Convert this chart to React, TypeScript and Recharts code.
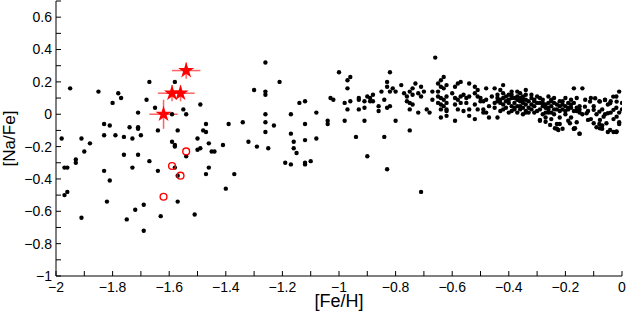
import {
    ErrorBar,
    Scatter,
    ScatterChart,
    Symbols,
    XAxis,
    YAxis,
} from 'recharts';

// [Fe/H], [Na/Fe] pairs
const metalPoorStars: [number, number][] = [
    [-1.95, 0.16], [-1.85, 0.14], [-1.78, 0.13], [-1.77, 0.1], [-1.8, 0.07],
    [-1.67, 0.2], [-1.58, 0.2], [-1.68, 0.09], [-1.65, 0.04], [-1.71, 0.01],
    [-1.59, 0.0], [-1.55, 0.03], [-1.54, 0.0], [-1.49, 0.06], [-1.98, -0.15],
    [-1.91, -0.15], [-1.88, -0.18], [-1.9, -0.23], [-1.93, -0.28], [-1.93, -0.3],
    [-1.97, -0.33], [-1.96, -0.33], [-1.97, -0.5], [-1.96, -0.48], [-1.83, -0.06],
    [-1.81, -0.07], [-1.83, -0.13], [-1.79, -0.13], [-1.76, -0.14], [-1.74, -0.08],
    [-1.73, -0.15], [-1.71, -0.08], [-1.71, -0.09], [-1.7, -0.13], [-1.64, -0.1],
    [-1.57, -0.1], [-1.59, -0.17], [-1.58, -0.19], [-1.58, -0.2], [-1.54, -0.26],
    [-1.5, -0.15], [-1.48, -0.1], [-1.47, -0.11], [-1.47, -0.06], [-1.5, -0.22],
    [-1.49, -0.21], [-1.76, -0.25], [-1.71, -0.25], [-1.67, -0.29], [-1.73, -0.33],
    [-1.64, -0.35], [-1.83, -0.35], [-1.81, -0.41], [-1.58, -0.33], [-1.57, -0.38],
    [-1.47, -0.37], [-1.82, -0.54], [-1.57, -0.54], [-1.69, -0.56], [-1.72, -0.59],
    [-1.91, -0.64], [-1.75, -0.65], [-1.63, -0.63], [-1.51, -0.62], [-1.69, -0.72],
    [-1.46, -0.18], [-1.45, -0.23], [-1.44, -0.23], [-1.46, -0.33], [-1.41, -0.19],
    [-1.39, -0.06], [-1.37, -0.37], [-1.4, -0.46], [-1.34, -0.05], [-1.32, -0.17],
];

const midStars: [number, number][] = [
    [-1.26, 0.32], [-1.21, 0.2], [-1.3, 0.15], [-1.26, 0.14], [-1.26, 0.12],
    [-1.26, 0.0], [-1.26, -0.05], [-1.23, -0.07], [-1.26, -0.11], [-1.17, 0.0],
    [-1.14, 0.07], [-1.12, 0.08], [-1.08, 0.01], [-1.12, -0.06], [-1.17, -0.12],
    [-1.16, -0.17], [-1.16, -0.21], [-1.15, -0.24], [-1.12, -0.16], [-1.08, -0.15],
    [-1.19, -0.3], [-1.17, -0.31], [-1.12, -0.3], [-1.12, -0.31], [-1.1, -0.29],
    [-1.29, -0.2], [-1.25, -0.21], [-1.04, -0.04], [-1.04, -0.06], [-1.03, 0.1],
    [-1.02, 0.09], [-1.0, 0.26], [-0.97, 0.21], [-0.96, 0.23], [-0.97, 0.16],
    [-0.98, 0.07], [-0.96, 0.08], [-0.97, 0.03], [-0.98, -0.04], [-0.94, -0.14],
    [-0.9, -0.26], [-0.83, -0.34], [-0.71, -0.48], [-0.84, -0.14], [-0.75, -0.1],
    [-0.66, 0.35], [-0.82, 0.26], [-0.93, 0.1], [-0.93, 0.09], [-0.91, 0.08],
    [-0.91, 0.04], [-0.9, 0.11], [-0.89, 0.1], [-0.88, 0.12], [-0.89, 0.08],
    [-0.88, 0.08], [-0.93, 0.03], [-0.91, -0.04], [-0.86, 0.05], [-0.86, 0.02],
    [-0.85, 0.14], [-0.84, 0.09], [-0.83, 0.2], [-0.83, 0.17], [-0.81, 0.16],
    [-0.82, 0.14], [-0.8, 0.14], [-0.82, 0.05], [-0.83, 0.04], [-0.8, -0.04],
    [-0.78, 0.18], [-0.77, 0.13], [-0.76, 0.11], [-0.75, 0.14], [-0.74, 0.16],
    [-0.73, 0.19], [-0.74, 0.12], [-0.76, 0.08], [-0.75, 0.07], [-0.74, 0.06],
    [-0.75, 0.03], [-0.72, 0.13], [-0.71, 0.17], [-0.71, 0.11], [-0.7, 0.14],
    [-0.72, 0.01], [-0.69, 0.03], [-0.68, 0.01], [-0.67, 0.14], [-0.67, 0.09],
    [-0.65, 0.19], [-0.64, 0.21], [-0.63, 0.23], [-0.65, 0.14], [-0.64, 0.17],
    [-0.63, 0.16], [-0.62, 0.18], [-0.65, 0.11], [-0.64, 0.1], [-0.63, 0.09],
    [-0.62, 0.11], [-0.65, 0.07], [-0.64, 0.06], [-0.63, 0.05], [-0.62, 0.07],
    [-0.64, 0.03], [-0.62, 0.03], [-0.64, -0.02], [-0.62, -0.01], [-0.62, 0.02],
    [-0.59, 0.17], [-0.58, 0.19], [-0.57, 0.2], [-0.6, 0.13], [-0.59, 0.1],
    [-0.58, 0.09], [-0.57, 0.11], [-0.56, 0.12], [-0.55, 0.1], [-0.54, 0.11],
    [-0.59, 0.06], [-0.57, 0.07], [-0.55, 0.07], [-0.58, 0.03], [-0.56, 0.02],
    [-0.54, 0.03], [-0.59, -0.04], [-0.54, 0.19], [-0.52, 0.17], [-0.51, 0.15],
    [-0.52, 0.13], [-0.51, 0.11], [-0.5, 0.1], [-0.52, 0.06], [-0.51, 0.03],
    [-0.49, 0.01], [-0.54, -0.01], [-0.52, -0.03], [-0.5, 0.08],
];

const metalRichStars: [number, number][] = [
    [-0.48, 0.16], [-0.45, 0.16], [-0.42, 0.18], [-0.43, 0.15], [-0.39, 0.14],
    [-0.37, 0.14], [-0.34, 0.15], [-0.36, 0.13], [-0.17, 0.16], [-0.14, 0.16],
    [-0.49, 0.08], [-0.48, 0.09], [-0.49, 0.03], [-0.48, 0.01], [-0.47, -0.02],
    [-0.46, 0.11], [-0.45, 0.07], [-0.45, 0.04], [-0.44, -0.02], [-0.44, 0.12],
    [-0.43, 0.09], [-0.42, 0.06], [-0.42, 0.03], [-0.41, 0.11], [-0.41, 0.08],
    [-0.4, 0.01], [-0.39, 0.05], [-0.39, 0.1], [-0.38, 0.07], [-0.38, 0.03],
    [-0.37, 0.09], [-0.37, 0.01], [-0.36, 0.05], [-0.35, 0.11], [-0.35, 0.07],
    [-0.34, 0.02], [-0.34, 0.09], [-0.33, 0.04], [-0.32, 0.12], [-0.32, 0.06],
    [-0.31, 0.01], [-0.31, 0.09], [-0.3, 0.11], [-0.29, 0.03], [-0.29, -0.04],
    [-0.28, 0.0], [-0.28, 0.07], [-0.27, -0.02], [-0.26, 0.11], [-0.26, 0.04],
    [-0.25, 0.09], [-0.25, 0.01], [-0.24, 0.07], [-0.24, 0.1], [-0.23, -0.06],
    [-0.22, 0.05], [-0.22, 0.02], [-0.21, -0.09], [-0.21, 0.08], [-0.2, 0.0],
    [-0.19, 0.04], [-0.19, -0.04], [-0.18, 0.09], [-0.18, 0.06], [-0.17, -0.09],
    [-0.16, 0.02], [-0.16, -0.05], [-0.15, 0.05], [-0.15, -0.12], [-0.15, 0.01],
    [-0.47, 0.05], [-0.44, 0.08], [-0.42, 0.13], [-0.4, 0.07], [-0.38, 0.04],
    [-0.36, 0.08], [-0.34, 0.06], [-0.32, 0.03], [-0.31, 0.08], [-0.29, 0.07],
    [-0.28, 0.05], [-0.26, 0.03], [-0.25, 0.08], [-0.23, 0.03], [-0.21, 0.06],
    [-0.2, 0.1], [-0.19, 0.03], [-0.17, 0.07], [-0.16, 0.1], [-0.27, 0.01],
    [-0.25, -0.03], [-0.22, -0.02], [-0.18, -0.02], [-0.43, 0.02], [-0.35, 0.0],
    [-0.34, 0.01], [-0.23, -0.09], [-0.22, -0.06], [-0.17, -0.09], [-0.15, -0.12],
    [-0.13, 0.09], [-0.12, 0.02], [-0.11, -0.03], [-0.11, 0.1], [-0.1, 0.05],
    [-0.09, 0.0], [-0.09, -0.08], [-0.08, 0.08], [-0.08, -0.06], [-0.07, 0.03],
    [-0.06, 0.09], [-0.06, 0.0], [-0.05, -0.11], [-0.05, 0.06], [-0.04, 0.01],
    [-0.04, 0.08], [-0.03, -0.03], [-0.02, 0.04], [-0.02, -0.11], [-0.02, 0.11],
    [-0.01, 0.01], [-0.01, -0.05], [-0.01, 0.14], [-0.0, 0.07], [-0.0, 0.03],
    [-0.07, -0.07], [-0.07, -0.09], [-0.03, -0.11], [-0.01, -0.06],
];

// the packed band between -0.45 and 0
const denseBand: [number, number][] = [
    [-0.44, 0.1], [-0.43, 0.07], [-0.42, 0.1], [-0.41, 0.04], [-0.4, 0.12],
    [-0.4, 0.09], [-0.39, 0.02], [-0.39, 0.12], [-0.38, 0.1], [-0.37, 0.05],
    [-0.37, 0.11], [-0.36, 0.03], [-0.36, 0.1], [-0.35, 0.04], [-0.35, 0.09],
    [-0.34, 0.12], [-0.33, 0.08], [-0.33, 0.01], [-0.32, 0.1], [-0.31, 0.05],
    [-0.3, 0.07], [-0.3, 0.02], [-0.29, 0.1], [-0.28, 0.09], [-0.27, 0.06],
    [-0.27, 0.04], [-0.26, 0.07], [-0.26, 0.01], [-0.25, 0.05], [-0.24, 0.03],
    [-0.24, 0.0], [-0.23, 0.06], [-0.22, 0.08], [-0.21, 0.03], [-0.2, 0.05],
    [-0.2, 0.02], [-0.19, 0.07], [-0.18, 0.04], [-0.17, 0.02], [-0.16, 0.04],
    [-0.15, 0.03], [-0.14, 0.0], [-0.29, -0.035], [-0.27, -0.046], [-0.254, -0.066],
    [-0.237, -0.087], [-0.225, -0.097], [-0.184, -0.056], [-0.166, -0.087],
    [-0.131, 0.047], [-0.113, 0.078], [-0.095, 0.099], [-0.078, 0.078],
    [-0.06, 0.088], [-0.042, 0.068], [-0.031, 0.109], [-0.019, 0.078],
    [-0.125, 0.006], [-0.1, 0.027], [-0.08, 0.016], [-0.065, -0.015],
    [-0.05, 0.006], [-0.03, 0.027], [-0.019, -0.015], [-0.12, -0.035],
    [-0.1, -0.056], [-0.078, -0.035], [-0.055, -0.056], [-0.042, -0.097],
    [-0.019, -0.107], [-0.078, -0.087],
];

// open red circles
const openFeH = [-1.54, -1.59, -1.56, -1.62];
const openNaFe = [-0.23, -0.32, -0.38, -0.51];

// red stars with error bars
const starFeH = [-1.54, -1.59, -1.56, -1.62];
const starNaFe = [0.27, 0.13, 0.13, 0.0];
const starErrFeH = [0.05, 0.05, 0.05, 0.05];
const starErrNaFe = [0.05, 0.05, 0.05, 0.09];

const xTicks = [
    -2, -1.9, -1.8, -1.7, -1.6, -1.5, -1.4, -1.3, -1.2, -1.1, -1,
    -0.9, -0.8, -0.7, -0.6, -0.5, -0.4, -0.3, -0.2, -0.1, 0,
];
const yTicks = [
    -1, -0.9, -0.8, -0.7, -0.6, -0.5, -0.4, -0.3, -0.2, -0.1, 0,
    0.1, 0.2, 0.3, 0.4, 0.5, 0.6, 0.7,
];

const fieldData = [
    ...metalPoorStars,
    ...midStars,
    ...metalRichStars,
    ...denseBand,
].map(([x, y]) => ({ x, y }));
const openData = openFeH.map((x, i) => ({ x, y: openNaFe[i] }));
const starData = starFeH.map((x, i) => ({
    x,
    y: starNaFe[i],
    ex: starErrFeH[i],
    ey: starErrNaFe[i],
}));

const fmt = (v: number) => {
    const r = Math.round(v * 10);
    if (r % 2 !== 0) return '';
    return String(r / 10).replace('-', '\u2212');
};
const blank = () => '';

const tickStyle = { fill: '#000', fontSize: 14 };
const line = { stroke: '#000', strokeWidth: 1 };

const BlackDot = (p: any) => <circle cx={p.cx} cy={p.cy} r={2.2} fill="#000" />;
const OpenDot = (p: any) => (
    <circle cx={p.cx} cy={p.cy} r={3.4} fill="none" stroke="#ff0000" strokeWidth={1.4} />
);
const StarMark = (p: any) => (
    <Symbols cx={p.cx} cy={p.cy} type="star" size={80} fill="#ff0000" />
);

export default function App() {
    return (
        <div
            style={{
                position: 'fixed',
                left: 0,
                top: 0,
                background: '#fff',
                fontFamily: '"Liberation Sans", Arial, Helvetica, sans-serif',
            }}
        >
            <ScatterChart
                width={626}
                height={317}
                margin={{ top: 1, right: 4, bottom: 0, left: 0 }}
            >
                <XAxis
                    xAxisId="b"
                    type="number"
                    dataKey="x"
                    domain={[-2, 0]}
                    allowDataOverflow
                    ticks={xTicks}
                    interval={0}
                    tickFormatter={fmt}
                    tickSize={-5}
                    tickMargin={11}
                    tick={tickStyle}
                    axisLine={line}
                    tickLine={line}
                    height={41}
                    label={{
                        value: '[Fe/H]',
                        position: 'insideBottom',
                        offset: 10,
                        fill: '#000',
                        fontSize: 18,
                    }}
                />
                <XAxis
                    xAxisId="t"
                    orientation="top"
                    type="number"
                    dataKey="x"
                    domain={[-2, 0]}
                    allowDataOverflow
                    ticks={xTicks}
                    interval={0}
                    tickFormatter={blank}
                    tickSize={-5}
                    axisLine={line}
                    tickLine={line}
                    height={0}
                />
                <YAxis
                    yAxisId="l"
                    type="number"
                    dataKey="y"
                    domain={[-1, 0.7]}
                    allowDataOverflow
                    ticks={yTicks}
                    interval={0}
                    tickFormatter={fmt}
                    tickSize={-5}
                    tickMargin={9}
                    tick={tickStyle}
                    axisLine={line}
                    tickLine={line}
                    width={56}
                    label={{
                        value: '[Na/Fe]',
                        angle: -90,
                        position: 'center',
                        dx: -19,
                        fill: '#000',
                        fontSize: 17,
                    }}
                />
                <YAxis
                    yAxisId="r"
                    orientation="right"
                    type="number"
                    dataKey="y"
                    domain={[-1, 0.7]}
                    allowDataOverflow
                    ticks={yTicks}
                    interval={0}
                    tickFormatter={blank}
                    tickSize={-5}
                    axisLine={line}
                    tickLine={line}
                    width={0}
                />
                <Scatter
                    xAxisId="t"
                    yAxisId="r"
                    data={[]}
                    isAnimationActive={false}
                />
                <Scatter
                    xAxisId="b"
                    yAxisId="l"
                    data={fieldData}
                    shape={BlackDot}
                    isAnimationActive={false}
                />
                <Scatter
                    xAxisId="b"
                    yAxisId="l"
                    data={openData}
                    shape={OpenDot}
                    isAnimationActive={false}
                />
                <Scatter
                    xAxisId="b"
                    yAxisId="l"
                    data={starData}
                    shape={StarMark}
                    isAnimationActive={false}
                >
                    <ErrorBar
                        dataKey="ex"
                        direction="x"
                        width={0}
                        stroke="#ff3030"
                        strokeOpacity={0.75}
                        strokeWidth={1.5}
                        isAnimationActive={false}
                    />
                    <ErrorBar
                        dataKey="ey"
                        direction="y"
                        width={0}
                        stroke="#ff3030"
                        strokeOpacity={0.75}
                        strokeWidth={1.5}
                        isAnimationActive={false}
                    />
                </Scatter>
            </ScatterChart>
        </div>
    );
}
